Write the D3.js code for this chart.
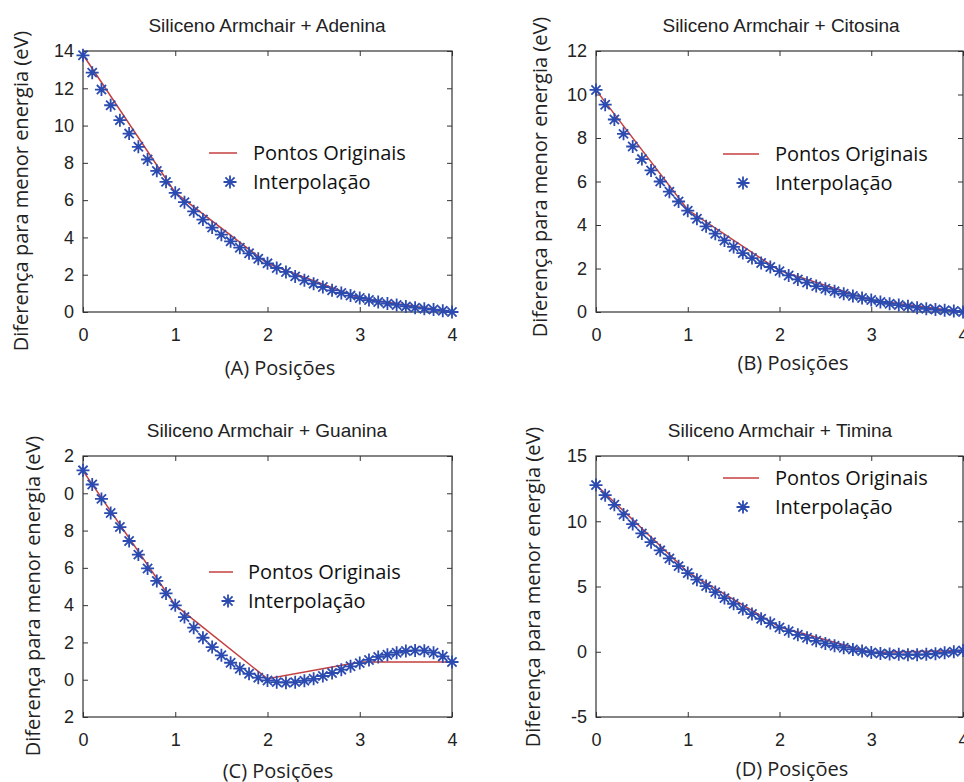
<!DOCTYPE html>
<html>
<head>
<meta charset="utf-8">
<script src="https://cdn.jsdelivr.net/npm/d3@7"></script>
<style>
  body { margin: 0; background: #fff; }
  svg { display: block; }
</style>
</head>
<body>
<svg id="chart" width="964" height="782"></svg>
<script>
// posicoes da interpolacao (41 pontos) e dos pontos originais
var posicoes = [0, 0.1, 0.2, 0.3, 0.4, 0.5, 0.6, 0.7, 0.8, 0.9,
  1, 1.1, 1.2, 1.3, 1.4, 1.5, 1.6, 1.7, 1.8, 1.9,
  2, 2.1, 2.2, 2.3, 2.4, 2.5, 2.6, 2.7, 2.8, 2.9,
  3, 3.1, 3.2, 3.3, 3.4, 3.5, 3.6, 3.7, 3.8, 3.9, 4];
var posOriginais = [0, 1, 2, 3, 4];

var adeninaOrig = [13.8, 6.4, 2.6, 0.75, 0.0];
var adeninaInterp = [13.77, 12.84, 11.93, 11.09, 10.29, 9.57, 8.86, 8.18, 7.57, 6.98,
  6.39, 5.89, 5.40, 4.96, 4.53, 4.15, 3.79, 3.45, 3.15, 2.86,
  2.61, 2.36, 2.15, 1.91, 1.70, 1.52, 1.34, 1.16, 1.02, 0.88,
  0.75, 0.64, 0.54, 0.45, 0.38, 0.30, 0.23, 0.18, 0.13, 0.07, 0.0];

var citosinaOrig = [10.2, 4.7, 1.9, 0.55, 0.0];
var citosinaInterp = [10.21, 9.53, 8.85, 8.19, 7.61, 7.03, 6.51, 6.00, 5.53, 5.08,
  4.66, 4.29, 3.94, 3.60, 3.29, 2.99, 2.71, 2.48, 2.25, 2.07,
  1.88, 1.68, 1.50, 1.35, 1.19, 1.07, 0.95, 0.84, 0.74, 0.64,
  0.55, 0.46, 0.38, 0.32, 0.26, 0.20, 0.15, 0.11, 0.08, 0.05, 0.0];

var guaninaOrig = [11.2, 4.0, 0.05, 0.95, 0.95];
var guaninaInterp = [11.23, 10.47, 9.70, 8.94, 8.19, 7.44, 6.71, 5.97, 5.30, 4.63,
  3.99, 3.36, 2.79, 2.25, 1.75, 1.31, 0.91, 0.59, 0.32, 0.11,
  -0.04, -0.13, -0.16, -0.13, -0.05, 0.05, 0.20, 0.36, 0.54, 0.72,
  0.89, 1.06, 1.22, 1.34, 1.45, 1.54, 1.57, 1.56, 1.45, 1.25, 0.95];

var timinaOrig = [12.8, 6.1, 1.9, -0.05, 0.1];
var timinaInterp = [12.77, 12.00, 11.26, 10.52, 9.78, 9.07, 8.40, 7.77, 7.15, 6.56,
  6.03, 5.52, 5.03, 4.57, 4.11, 3.68, 3.27, 2.89, 2.53, 2.20,
  1.86, 1.58, 1.30, 1.07, 0.84, 0.64, 0.46, 0.31, 0.18, 0.05,
  -0.05, -0.13, -0.18, -0.20, -0.23, -0.23, -0.20, -0.15, -0.08, 0.0, 0.10];

var titulos = ["Siliceno Armchair + Adenina", "Siliceno Armchair + Citosina",
  "Siliceno Armchair + Guanina", "Siliceno Armchair + Timina"];
var rotulosX = ["(A) Posições", "(B) Posições", "(C) Posições", "(D) Posições"];
var rotuloY = "Diferença para menor energia (eV)";
var legendaNomes = ["Pontos Originais", "Interpolação"];

var xTicks = [0, 1, 2, 3, 4];
var yTicksA = [0, 2, 4, 6, 8, 10, 12, 14];
var yTicksB = [0, 2, 4, 6, 8, 10, 12];
var yTicksC = [-2, 0, 2, 4, 6, 8, 10, 12];
var yTickLabelsC = ["2", "0", "2", "4", "6", "8", "0", "2"];
var yTicksD = [-5, 0, 5, 10, 15];

var paineis = [
  { orig: adeninaOrig, interp: adeninaInterp, yDom: [0, 14], yTicks: yTicksA, yLabels: null },
  { orig: citosinaOrig, interp: citosinaInterp, yDom: [0, 12], yTicks: yTicksB, yLabels: null },
  { orig: guaninaOrig, interp: guaninaInterp, yDom: [-2, 12], yTicks: yTicksC, yLabels: yTickLabelsC },
  { orig: timinaOrig, interp: timinaInterp, yDom: [-5, 15], yTicks: yTicksD, yLabels: null }
];

// layout de cada painel (pixels)
var layout = [
  { x0: 83, x1: 452, y0: 51, y1: 312, tx: 267, ty: 32, ylx: 21, yly: 191, xlx: 280, xly: 375,
    lgX: 209, lgY: 153, lgW: 28, lgStar: 230, lgText: 253, lgGap: 29 },
  { x0: 596, x1: 963, y0: 51, y1: 312, tx: 781, ty: 32, ylx: 540, yly: 177, xlx: 793, xly: 370,
    lgX: 723, lgY: 154, lgW: 36, lgStar: 743, lgText: 775, lgGap: 29 },
  { x0: 83, x1: 452, y0: 456, y1: 717, tx: 267, ty: 437, ylx: 33, yly: 596, xlx: 278, xly: 778,
    lgX: 209, lgY: 572, lgW: 24, lgStar: 228, lgText: 248, lgGap: 29 },
  { x0: 596, x1: 963, y0: 456, y1: 717, tx: 780, ty: 437, ylx: 533, yly: 587, xlx: 792, xly: 776,
    lgX: 723, lgY: 478, lgW: 36, lgStar: 743, lgText: 775, lgGap: 29 }
];

var corLinha = "#c43f3f", corEstrela = "#2c4bb0", corEixo = "#333";
var fonteNum = "'Liberation Sans', Arial, sans-serif";
var fonteTxt = "'Open Sans', sans-serif";

var svg = d3.select("#chart");

// asterisco estilo MATLAB (8 bracos)
function asterisco(r) {
  var p = d3.path(), d = r * Math.SQRT1_2;
  p.moveTo(-r, 0); p.lineTo(r, 0);
  p.moveTo(0, -r); p.lineTo(0, r);
  p.moveTo(-d, -d); p.lineTo(d, d);
  p.moveTo(-d, d); p.lineTo(d, -d);
  return p.toString();
}

paineis.forEach(function(pn, i) {
  var L = layout[i];
  var x = d3.scaleLinear().domain([0, 4]).range([L.x0, L.x1]);
  var y = d3.scaleLinear().domain(pn.yDom).range([L.y1, L.y0]);
  var g = svg.append("g");

  // hifen simples como no original (-5)
  var fmtY = pn.yLabels ? function(d, k) { return pn.yLabels[k]; } : function(d) { return String(d); };

  var ax = g.append("g").attr("transform", "translate(0," + L.y1 + ")")
    .call(d3.axisBottom(x).tickValues(xTicks).tickSizeInner(-5).tickSizeOuter(0).tickPadding(16).tickFormat(d3.format("d")));
  var ay = g.append("g").attr("transform", "translate(" + L.x0 + ",0)")
    .call(d3.axisLeft(y).tickValues(pn.yTicks).tickSizeInner(-5).tickSizeOuter(0).tickPadding(9).tickFormat(fmtY));
  var axT = g.append("g").attr("transform", "translate(0," + L.y0 + ")")
    .call(d3.axisTop(x).tickValues(xTicks).tickSizeInner(-5).tickSizeOuter(0).tickFormat(""));
  var ayR = g.append("g").attr("transform", "translate(" + L.x1 + ",0)")
    .call(d3.axisRight(y).tickValues(pn.yTicks).tickSizeInner(-5).tickSizeOuter(0).tickFormat(""));

  [ax, ay, axT, ayR].forEach(function(a) {
    a.select(".domain").remove();
    a.selectAll("line").attr("stroke", corEixo);
    a.selectAll("text").attr("fill", "#222").style("font-family", fonteNum).style("font-size", "18px");
  });

  g.append("rect").attr("x", L.x0).attr("y", L.y0)
    .attr("width", L.x1 - L.x0).attr("height", L.y1 - L.y0)
    .attr("fill", "none").attr("stroke", corEixo).attr("stroke-width", 1.2);

  // linha dos pontos originais
  var linha = d3.line().x(function(d, k) { return x(posOriginais[k]); }).y(function(d) { return y(d); });
  g.append("path").datum(pn.orig).attr("d", linha)
    .attr("fill", "none").attr("stroke", corLinha).attr("stroke-width", 1.5);

  // interpolacao
  g.selectAll(".estrela").data(pn.interp).enter().append("path")
    .attr("class", "estrela")
    .attr("transform", function(d, k) { return "translate(" + x(posicoes[k]) + "," + y(d) + ")"; })
    .attr("d", asterisco(6.5))
    .attr("fill", "none").attr("stroke", corEstrela).attr("stroke-width", 1.8);

  // titulo
  g.append("text").attr("x", L.tx).attr("y", L.ty).attr("text-anchor", "middle")
    .style("font-family", fonteNum).style("font-size", "19px").attr("fill", "#222")
    .text(titulos[i]);

  // rotulos dos eixos
  g.append("text").attr("transform", "translate(" + L.ylx + "," + L.yly + ") rotate(-90)")
    .attr("text-anchor", "middle").attr("dy", "0.36em")
    .style("font-family", fonteTxt).style("font-size", "20px").attr("fill", "#222")
    .text(rotuloY);
  g.append("text").attr("x", L.xlx).attr("y", L.xly).attr("text-anchor", "middle")
    .style("font-family", fonteTxt).style("font-size", "20px").attr("fill", "#222")
    .text(rotulosX[i]);

  // legenda
  var lg = g.append("g");
  lg.append("line").attr("x1", L.lgX).attr("x2", L.lgX + L.lgW)
    .attr("y1", L.lgY).attr("y2", L.lgY)
    .attr("stroke", corLinha).attr("stroke-width", 1.5);
  lg.append("path").attr("transform", "translate(" + L.lgStar + "," + (L.lgY + L.lgGap) + ")")
    .attr("d", asterisco(6.5)).attr("fill", "none").attr("stroke", corEstrela).attr("stroke-width", 1.8);
  legendaNomes.forEach(function(nome, k) {
    lg.append("text").attr("x", L.lgText).attr("y", L.lgY + k * L.lgGap).attr("dy", "0.36em")
      .style("font-family", fonteTxt).style("font-size", "20px").attr("fill", "#111")
      .text(nome);
  });
});
</script>
</body>
</html>
